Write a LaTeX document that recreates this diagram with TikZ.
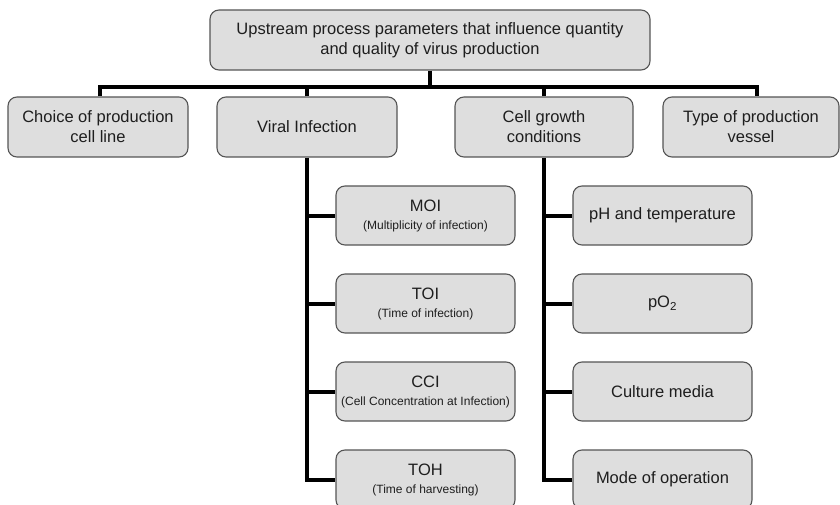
\documentclass[tikz,border=0pt]{standalone}
\usepackage{fontspec}
\setmainfont{Liberation Sans}
\definecolor{boxfill}{HTML}{DEDEDE}
\definecolor{boxline}{HTML}{555555}
\definecolor{txt}{HTML}{1E1E1E}
\begin{document}
\begin{tikzpicture}[x=1pt,y=-1pt,
  box/.style={draw=boxline, fill=boxfill, line width=1.1pt, rounded corners=9pt,
    align=center, text=txt, font=\fontsize{16.5}{20}\selectfont, inner sep=2pt},
  lvl/.style={box, minimum width=180pt, minimum height=60pt},
  kid/.style={box, minimum width=179pt, minimum height=59pt},
  small/.style={font=\fontsize{12}{14}\selectfont},
  conn/.style={draw=black, line width=4pt, line join=miter}]
\useasboundingbox (0,0) rectangle (840,505);
\node[box, minimum width=440pt, minimum height=60pt] (top) at (430,40)
  {Upstream process parameters that influence quantity\\and quality of virus production};
\node[lvl] (choice) at (98,127) {Choice of production\\cell line};
\node[lvl] (viral) at (307,127) {Viral Infection};
\node[lvl, minimum width=178pt] (cell) at (544,127) {Cell growth\\conditions};
\node[lvl, minimum width=176pt] (type) at (751,127) {Type of production\\vessel};
\node[kid] (moi) at (425.5,215.5) {MOI\\[-2pt]{\fontsize{12}{14}\selectfont (Multiplicity of infection)}};
\node[kid] (toi) at (425.5,303.5) {TOI\\[-2pt]{\fontsize{12}{14}\selectfont (Time of infection)}};
\node[kid] (cci) at (425.5,391.5) {CCI\\[-2pt]{\fontsize{12}{14}\selectfont (Cell Concentration at Infection)}};
\node[kid] (toh) at (425.5,479.5) {TOH\\[-2pt]{\fontsize{12}{14}\selectfont (Time of harvesting)}};
\node[kid] (ph) at (662.5,215.5) {pH and temperature};
\node[kid] (po) at (662.5,303.5) {pO\textsubscript{2}};
\node[kid] (media) at (662.5,391.5) {Culture media};
\node[kid] (mode) at (662.5,479.5) {Mode of operation};
\coordinate (bus) at (430,87);
\coordinate (typetop) at ([xshift=6pt]type.north);
\coordinate (choicetop) at ([xshift=2pt]choice.north);
\draw[conn] (top.south) -- (bus);
\draw[conn] (choicetop) |- (bus) -| (typetop);
\draw[conn] (viral.north) -- (viral.north |- bus);
\draw[conn] (cell.north) -- (cell.north |- bus);
\draw[conn] (viral.south) |- (toh.west);
\draw[conn] (viral.south |- moi.west) -- (moi.west);
\draw[conn] (viral.south |- toi.west) -- (toi.west);
\draw[conn] (viral.south |- cci.west) -- (cci.west);
\draw[conn] (cell.south) |- (mode.west);
\draw[conn] (cell.south |- ph.west) -- (ph.west);
\draw[conn] (cell.south |- po.west) -- (po.west);
\draw[conn] (cell.south |- media.west) -- (media.west);
\end{tikzpicture}
\end{document}
